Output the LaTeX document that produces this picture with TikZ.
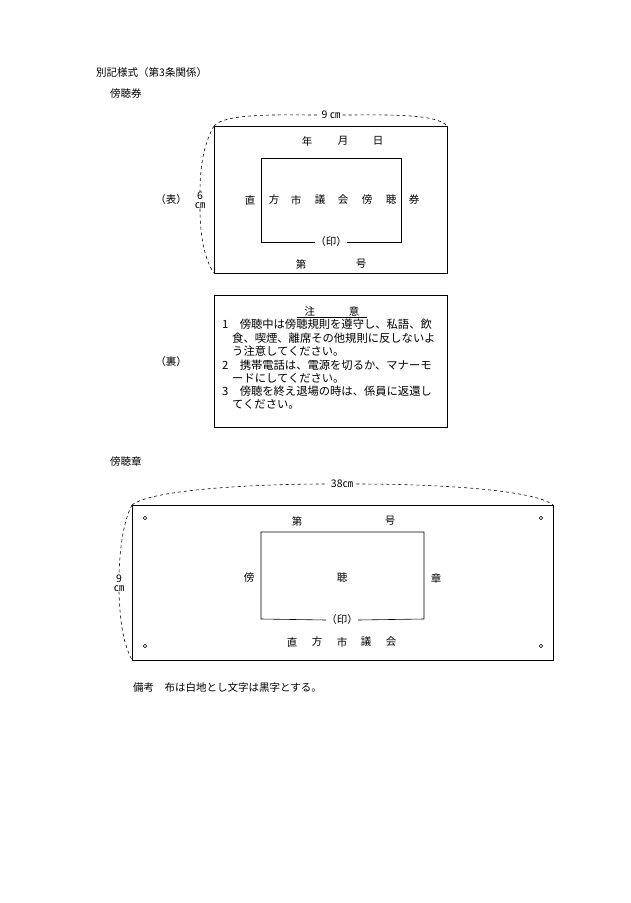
\documentclass[tikz,border=0pt]{standalone}
\usepackage{fontspec}
\setmainfont{Noto Sans CJK JP}
\newfontfamily\numfont{Liberation Serif}
\begin{document}
\begin{tikzpicture}[x=1pt,y=-1pt,
  txt/.style={inner sep=0pt,font=\fontsize{10.5}{12}\selectfont},
  ltxt/.style={txt,anchor=west,font=\fontsize{11.3}{12}\selectfont},
  box/.style={draw,line width=0.6pt},
  dim/.style={dashed,line width=0.6pt},
  hole/.style={draw,circle,inner sep=0pt,minimum size=3.5pt,line width=0.5pt}]
\useasboundingbox (0,0) rectangle (630,903);
\fill[white] (0,0) rectangle (630,903);
\node[txt,anchor=west] (h1) at (96,73) {別記様式（第3条関係）};
\node[txt,anchor=west] (h2) at (110,94) {傍聴券};
% ticket front
\coordinate (ta) at (214,126); \coordinate (tb) at (447,126); \coordinate (tc) at (214,273);
\draw[box] (214,126) rectangle (447,273);
\node[txt,fill=white,inner xsep=2pt] (w9) at (331,115) {9 ㎝};
\draw[dim] (ta) .. controls (225,113) and (280,115) .. (w9.west);
\draw[dim] (w9.east) .. controls (380,115) and (437,113) .. (tb);
\node[txt,fill=white] (h6) at (200,200) {\shortstack{6\\㎝}};
\draw[dim] (ta) .. controls (206,140) and (200,160) .. (h6.north);
\draw[dim] (h6.south) .. controls (200,240) and (206,262) .. (tc);
\node[txt] (omote) at (171,200) {（表）};
\node[txt] at (307,141) {年};
\node[txt] at (343,141) {月};
\node[txt] at (378,141) {日};
\foreach \c/\x in {直/250,方/274,市/296,議/320,会/343,傍/367,聴/391,券/414}
  \node[txt] at (\x,200) {\c};
\node[txt] (in1) at (331,242) {（印）};
\draw[box] (in1.west) -- (261,242) -- (261,158) -- (401,158) -- (401,242) -- (in1.east);
\node[txt] at (301,264) {第};
\node[txt] at (361,264) {号};
% ticket back
\draw[box] (214,295) rectangle (447,427);
\node[txt] (ura) at (171,362) {（裏）};
\node[txt] (chui) at (332,311) {注\hspace{3.2em}意};
\draw[line width=0.5pt] (297,317) -- (367,317);
\node[ltxt] at (222,324) {1\hspace{1em}傍聴中は傍聴規則を遵守し、私語、飲};
\node[ltxt] at (232,338) {食、喫煙、離席その他規則に反しないよ};
\node[ltxt] at (232,351) {う注意してください。};
\node[ltxt] at (222,365) {2\hspace{1em}携帯電話は、電源を切るか、マナーモ};
\node[ltxt] at (232,378) {ードにしてください。};
\node[ltxt] at (222,391) {3\hspace{1em}傍聴を終え退場の時は、係員に返還し};
\node[ltxt] at (232,404) {てください。};
% badge
\node[txt,anchor=west] (h3) at (110,462) {傍聴章};
\coordinate (ba) at (132,505); \coordinate (bb) at (553,505); \coordinate (bc) at (132,660);
\draw[box] (132,505) rectangle (553,660);
\node[txt,fill=white,inner xsep=3pt] (w38) at (342,484) {38㎝};
\draw[dim] (ba) .. controls (150,490) and (250,484) .. (w38.west);
\draw[dim] (w38.east) .. controls (440,484) and (535,490) .. (bb);
\node[txt,fill=white] (h9) at (119,583) {\shortstack{9\\㎝}};
\draw[dim] (ba) .. controls (124,520) and (120,545) .. (h9.north);
\draw[dim] (h9.south) .. controls (120,625) and (124,645) .. (bc);
\node[hole] at (145,518) {}; \node[hole] at (541,518) {};
\node[hole] at (145,646) {}; \node[hole] at (541,646) {};
\node[txt] at (297,521) {第};
\node[txt] at (390,521) {号};
\node[txt] at (249,578) {傍};
\node[txt] at (342,578) {聴};
\node[txt] at (436,578) {章};
\node[txt] (in2) at (342,620) {（印）};
\draw[box] (in2.west) -- (261,619) -- (261,532) -- (424,532) -- (424,619) -- (in2.east);
\foreach \c/\x in {直/292,方/317,市/342,議/366,会/391}
  \node[txt] at (\x,642) {\c};
\node[txt,anchor=west] (biko) at (133,687) {備考\hspace{1em}布は白地とし文字は黒字とする。};
\end{tikzpicture}
\end{document}
